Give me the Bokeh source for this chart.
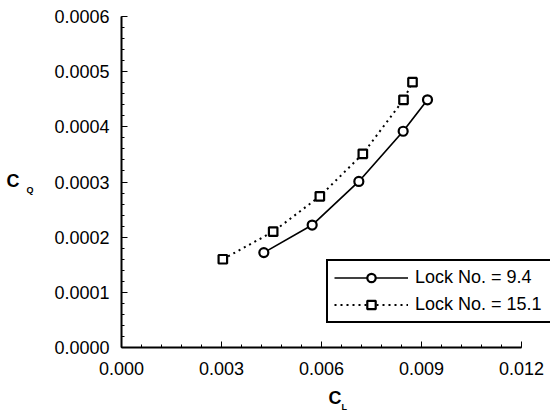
from bokeh.plotting import figure
from bokeh.models import (FixedTicker, PrintfTickFormatter, Range1d, Label, Legend, LegendItem)
from bokeh.embed import file_html
from bokeh.resources import INLINE

# Data
cl_lock94 = [0.00427, 0.00572, 0.00712, 0.00845, 0.00918]
cq_lock94 = [0.000172, 0.000222, 0.000301, 0.000392, 0.000449]
cl_lock151 = [0.00304, 0.00455, 0.00595, 0.00724, 0.00846, 0.00873]
cq_lock151 = [0.000160, 0.000210, 0.000274, 0.000351, 0.000449, 0.000481]
x_ticks = [0.000, 0.003, 0.006, 0.009, 0.012]
y_ticks = [0.0000, 0.0001, 0.0002, 0.0003, 0.0004, 0.0005, 0.0006]
label_94 = "Lock No. = 9.4"
label_151 = "Lock No. = 15.1"

FONT = "Liberation Sans"

p = figure(width=550, height=414, output_backend="svg", toolbar_location=None,
           x_range=Range1d(0, 0.012 * 429 / 400), y_range=Range1d(0, 0.0006 * 333 / 331),
           min_border_left=121, min_border_right=0, min_border_top=14, min_border_bottom=67)
p.outline_line_color = None
p.xgrid.grid_line_color = None
p.ygrid.grid_line_color = None
p.background_fill_color = "white"
p.border_fill_color = "white"

x_minor = [i * 0.0006 for i in range(21)]
y_minor = [i * 0.00002 for i in range(31)]
p.xaxis.ticker = FixedTicker(ticks=x_ticks, minor_ticks=x_minor)
p.yaxis.ticker = FixedTicker(ticks=y_ticks, minor_ticks=y_minor)
p.xaxis.formatter = PrintfTickFormatter(format="%.3f")
p.yaxis.formatter = PrintfTickFormatter(format="%.4f")
p.xaxis.bounds = (0, 0.012)
p.yaxis.bounds = (0, 0.0006)

for ax in (p.xaxis, p.yaxis):
    ax.axis_line_width = 2
    ax.axis_line_color = "black"
    ax.major_tick_in = 6
    ax.major_tick_out = 0
    ax.minor_tick_in = 3
    ax.minor_tick_out = 0
    ax.major_tick_line_color = "black"
    ax.minor_tick_line_color = "black"
    ax.major_label_text_font = FONT
    ax.major_label_text_font_size = "18px"
    ax.major_label_text_color = "black"
p.xaxis.major_label_standoff = 14
p.yaxis.major_label_standoff = 12

# y-axis title "C" (subscript added below)
p.yaxis.axis_label = "C"
p.yaxis.axis_label_orientation = "horizontal"
p.yaxis.axis_label_text_font = FONT
p.yaxis.axis_label_text_font_style = "bold"
p.yaxis.axis_label_text_font_size = "18px"
p.yaxis.axis_label_text_color = "black"
p.yaxis.axis_label_standoff = 32

r1l = p.line(cl_lock94, cq_lock94, line_color="black", line_width=1.7)
r1m = p.scatter(cl_lock94, cq_lock94, marker="circle", size=9, fill_color="white",
                line_color="black", line_width=2.2)
r2l = p.line(cl_lock151, cq_lock151, line_color="black", line_width=2, line_dash="2 4")
r2m = p.scatter(cl_lock151, cq_lock151, marker="square", size=8.5, fill_color="white",
                line_color="black", line_width=2.2)

legend = Legend(items=[LegendItem(label=label_94, renderers=[r1l, r1m]),
                       LegendItem(label=label_151, renderers=[r2l, r2m])],
                location=(205, 24), margin=0, padding=6, spacing=6,
                glyph_width=74, glyph_height=21, label_height=21, label_width=150,
                label_standoff=7, label_text_font=FONT, label_text_font_size="18px",
                label_text_color="black",
                border_line_color="black", border_line_width=2, border_line_alpha=1,
                background_fill_color="white", background_fill_alpha=1)
p.add_layout(legend, "center")

def title_label(x, y, text, size):
    return Label(x=x, y=y, x_units="screen", y_units="screen", text=text,
                 text_font=FONT, text_font_style="bold", text_font_size=size,
                 text_color="black", text_baseline="alphabetic")

# x-axis title C with subscript L (bottom side panel)
p.add_layout(title_label(207, 0, "C", "18px"), "below")
p.add_layout(title_label(220, 1, "L", "9px"), "below")
# subscript Q of the y-axis title (top side panel)
p.add_layout(title_label(-95, -175, "Q", "9px"), "above")

open("out.html", "w").write(file_html(p, INLINE))
